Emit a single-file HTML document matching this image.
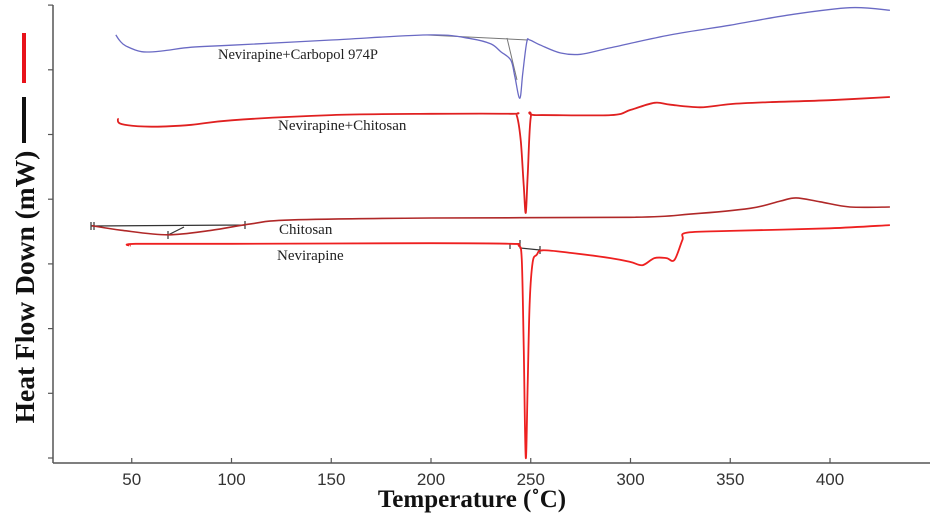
<!DOCTYPE html>
<html><head><meta charset="utf-8"><style>
html,body{margin:0;padding:0;background:#fff;}
svg{display:block;}
</style></head><body>
<svg id="chart" width="937" height="518" viewBox="0 0 937 518" xmlns="http://www.w3.org/2000/svg">
<g id="axes"></g>
<g id="series"></g>
<text x="472" y="507" text-anchor="middle" font-family="Liberation Serif, serif" font-weight="bold" font-size="25" fill="#111">Temperature (˚C)</text>
<text transform="translate(34,287) rotate(-90)" text-anchor="middle" font-family="Liberation Serif, serif" font-weight="bold" font-size="27.5" fill="#111">Heat Flow Down (mW)</text>
<rect x="22" y="33" width="4" height="50" fill="#e8121a"/>
<rect x="22" y="97" width="4" height="46" fill="#111"/>
<text x="218" y="59" font-family="Liberation Serif, serif" font-size="14.5" fill="#222">Nevirapine+Carbopol 974P</text>
<text x="278" y="130" font-family="Liberation Serif, serif" font-size="15" fill="#222">Nevirapine+Chitosan</text>
<text x="279" y="234" font-family="Liberation Serif, serif" font-size="15" fill="#222">Chitosan</text>
<text x="277" y="260" font-family="Liberation Serif, serif" font-size="15" fill="#222">Nevirapine</text>
</svg>
<script>
const xTicks = [50,100,150,200,250,300,350,400];
const yTicks = [0,1,2,3,4,5,6,7];
const carbopolT = [42,44,47,55,65,80,100,150,200,220,230,235,240,242,244.5,246,248,249.5,255,265,275,290,320,350,380,410,430];
const carbopolV = [6.54,6.45,6.37,6.28,6.29,6.35,6.38,6.46,6.54,6.48,6.40,6.28,6.15,5.9,5.56,5.95,6.43,6.46,6.38,6.26,6.24,6.34,6.54,6.69,6.85,6.96,6.92];
const nvpChitT = [43,45,60,80,100,150,200,240,243,245,246.5,247.5,248.5,250,253,290,300,312,320,335,350,370,400,430];
const nvpChitV = [5.25,5.16,5.12,5.15,5.22,5.30,5.32,5.32,5.29,4.9,4.2,3.79,4.4,5.27,5.30,5.30,5.38,5.49,5.46,5.42,5.47,5.50,5.53,5.58];
const chitT = [30,45,68,90,110,130,200,300,330,360,375,383,395,410,430];
const chitV = [3.59,3.52,3.45,3.52,3.62,3.68,3.71,3.72,3.77,3.86,3.97,4.02,3.96,3.88,3.88];
const nvpT = [49,52,100,200,240,244,245.5,246.5,247.5,248.5,249.5,251,253,256,270,290,300,306,312,318,322,326,328,350,400,430];
const nvpV = [3.28,3.31,3.31,3.32,3.31,3.28,3.06,1.66,0,1.21,2.44,3.03,3.14,3.21,3.17,3.09,3.03,2.98,3.09,3.09,3.06,3.37,3.48,3.51,3.55,3.60];

const NS='http://www.w3.org/2000/svg';
function xs(t){return 431+(t-200)*1.995;}
function ys(v){return 458-v*64.7;}
function mk(tag,attrs,parent){const e=document.createElementNS(NS,tag);for(const k in attrs)e.setAttribute(k,attrs[k]);parent.appendChild(e);return e;}
const axes=document.getElementById('axes');
const ser=document.getElementById('series');
let ax=mk('line',{x1:53,y1:5,x2:53,y2:463,stroke:'#555','stroke-width':1.5},axes);


let bx=mk('line',{x1:53,y1:463,x2:930,y2:463,stroke:'#555','stroke-width':1.5},axes);


xTicks.forEach(t=>{
  const tk=mk('line',{x1:xs(t),y1:463,x2:xs(t),y2:458,stroke:'#555','stroke-width':1.2},axes);
  
  
  const tl=mk('text',{x:xs(t),y:485,'text-anchor':'middle','font-family':'Liberation Sans, sans-serif','font-size':17,fill:'#333'},axes);
  tl.textContent=t;
  
  
});
yTicks.forEach(v=>{
  const tk=mk('line',{x1:48,y1:ys(v),x2:53,y2:ys(v),stroke:'#555','stroke-width':1.2},axes);
  
  
});
function draw(T,V,color,name,w){
  const P=T.map((t,i)=>[xs(t),ys(V[i])]);
  let d='M'+P[0][0].toFixed(1)+','+P[0][1].toFixed(1);
  for(let i=0;i<P.length-1;i++){
    const p0=P[Math.max(i-1,0)],p1=P[i],p2=P[i+1],p3=P[Math.min(i+2,P.length-1)];
    const c1=[p1[0]+(p2[0]-p0[0])/6,p1[1]+(p2[1]-p0[1])/6];
    const c2=[p2[0]-(p3[0]-p1[0])/6,p2[1]-(p3[1]-p1[1])/6];
    d+='C'+c1.map(n=>n.toFixed(1)).join(',')+' '+c2.map(n=>n.toFixed(1)).join(',')+' '+p2.map(n=>n.toFixed(1)).join(',');
  }
  const p=mk('path',{d:d,fill:'none',stroke:color,'stroke-width':w,'stroke-linejoin':'round'},ser);
  
  
}
let a1=mk('path',{d:'M427,35 L528,40 M507,38 L517,80',stroke:'#777','stroke-width':1,fill:'none'},ser);


let a2=mk('path',{d:'M91,226 L245,225 M91,222 V230 M94,222 V230 M245,221 V229 M168,231 V239 M168,235 L184,227 M510,243 V249 M520,240 V248 L540,250 M540,246 V254',stroke:'#333','stroke-width':1.2,fill:'none'},ser);


draw(carbopolT,carbopolV,'#6a6ac4','series-nvp-carbopol',1.3);
draw(nvpChitT,nvpChitV,'#e02020','series-nvp-chitosan',1.8);
draw(chitT,chitV,'#b02828','series-chitosan',1.6);
draw(nvpT,nvpV,'#ee2020','series-nevirapine',1.8);
</script>
</body></html>
